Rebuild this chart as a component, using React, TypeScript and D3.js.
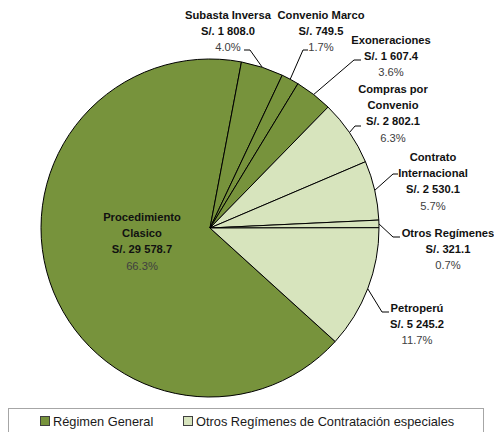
import React from "react";
import * as d3 from "d3";

const categories = [
  "Procedimiento Clasico",
  "Subasta Inversa",
  "Convenio Marco",
  "Exoneraciones",
  "Compras por Convenio",
  "Contrato Internacional",
  "Otros Regímenes",
  "Petroperú",
];
const values = [29578.7, 1808.0, 749.5, 1607.4, 2802.1, 2530.1, 321.1, 5245.2];
const valueLabels = ["S/. 29 578.7", "S/. 1 808.0", "S/. 749.5", "S/. 1 607.4", "S/. 2 802.1", "S/. 2 530.1", "S/. 321.1", "S/. 5 245.2"];
const percentLabels = ["66.3%", "4.0%", "1.7%", "3.6%", "6.3%", "5.7%", "0.7%", "11.7%"];
const groups = [0, 0, 0, 0, 1, 1, 1, 1];
const groupNames = ["Régimen General", "Otros Regímenes de Contratación especiales"];

// layout (not data)
const nameLines = [
  ["Procedimiento", "Clasico"],
  ["Subasta Inversa"],
  ["Convenio Marco"],
  ["Exoneraciones"],
  ["Compras por", "Convenio"],
  ["Contrato", "Internacional"],
  ["Otros Regímenes"],
  ["Petroperú"],
];
const labelPos: [number, number][] = [
  [142, 221],
  [228, 19],
  [321, 19],
  [391, 44],
  [393, 93],
  [433, 161],
  [448, 237],
  [417, 312],
];
const leaderElbow: ([number, number, number] | null)[] = [
  null,
  [250, 50, 244],
  [303, 50, 308],
  [354, 60, 361],
  [355, 126, 361],
  [393, 174, 398],
  [393, 237, 400],
  [382, 312, 389],
];

const colors = ["#77933C", "#D7E4BD"];
const cx = 210;
const cy = 228;
const R = 169;
const startDeg = 132.2;

export default function App() {
  const pie = d3
    .pie<number>()
    .sort(null)
    .value((d) => d)
    .startAngle((startDeg * Math.PI) / 180)
    .endAngle((startDeg * Math.PI) / 180 + 2 * Math.PI);
  const arcs = pie(values);
  const arcGen = d3.arc<d3.PieArcDatum<number>>().innerRadius(0).outerRadius(R);
  const lh = 16.2;
  const font = "'Liberation Sans', Arial, sans-serif";

  return (
    <svg width={494} height={432} style={{ position: "absolute", left: 0, top: 0 }}>
      <rect width={494} height={432} fill="#fff" />
      <g transform={`translate(${cx},${cy})`}>
        {arcs.map((a, i) => (
          <path key={i} d={arcGen(a) || ""} fill={colors[groups[i]]} stroke="#000" strokeWidth={1} />
        ))}
      </g>
      {arcs.map((a, i) => {
        const el = leaderElbow[i];
        if (!el) return null;
        const mid = (a.startAngle + a.endAngle) / 2;
        const px = cx + R * Math.sin(mid);
        const py = cy - R * Math.cos(mid);
        return (
          <polyline
            key={"l" + i}
            points={`${px},${py} ${el[0]},${el[1]} ${el[2]},${el[1]}`}
            fill="none"
            stroke="#000"
            strokeWidth={1}
          />
        );
      })}
      {categories.map((c, i) => {
        const [x, y] = labelPos[i];
        const names = nameLines[i];
        return (
          <text key={"t" + i} x={x} y={y} textAnchor="middle" fontFamily={font} fontSize={11.2}>
            {names.map((n, j) => (
              <tspan key={j} x={x} y={y + j * lh} fontWeight="bold" fill="#111">
                {n}
              </tspan>
            ))}
            <tspan x={x} y={y + names.length * lh} fontWeight="bold" fill="#111">
              {valueLabels[i]}
            </tspan>
            <tspan x={x} y={y + (names.length + 1) * lh} fill="#404040">
              {percentLabels[i]}
            </tspan>
          </text>
        );
      })}
      <rect x={8.5} y={408.5} width={475} height={24} fill="#fff" stroke="#a6a6a6" strokeWidth={1} />
      {groupNames.map((g, i) => {
        const x0 = i === 0 ? 40 : 183;
        return (
          <g key={"g" + i}>
            <rect x={x0 + 0.5} y={416.5} width={9} height={9} fill={colors[i]} stroke="#404040" strokeWidth={1} />
            <text x={x0 + 13} y={425.5} fontFamily={font} fontSize={12.8} fill="#1a1a1a">
              {g}
            </text>
          </g>
        );
      })}
    </svg>
  );
}
